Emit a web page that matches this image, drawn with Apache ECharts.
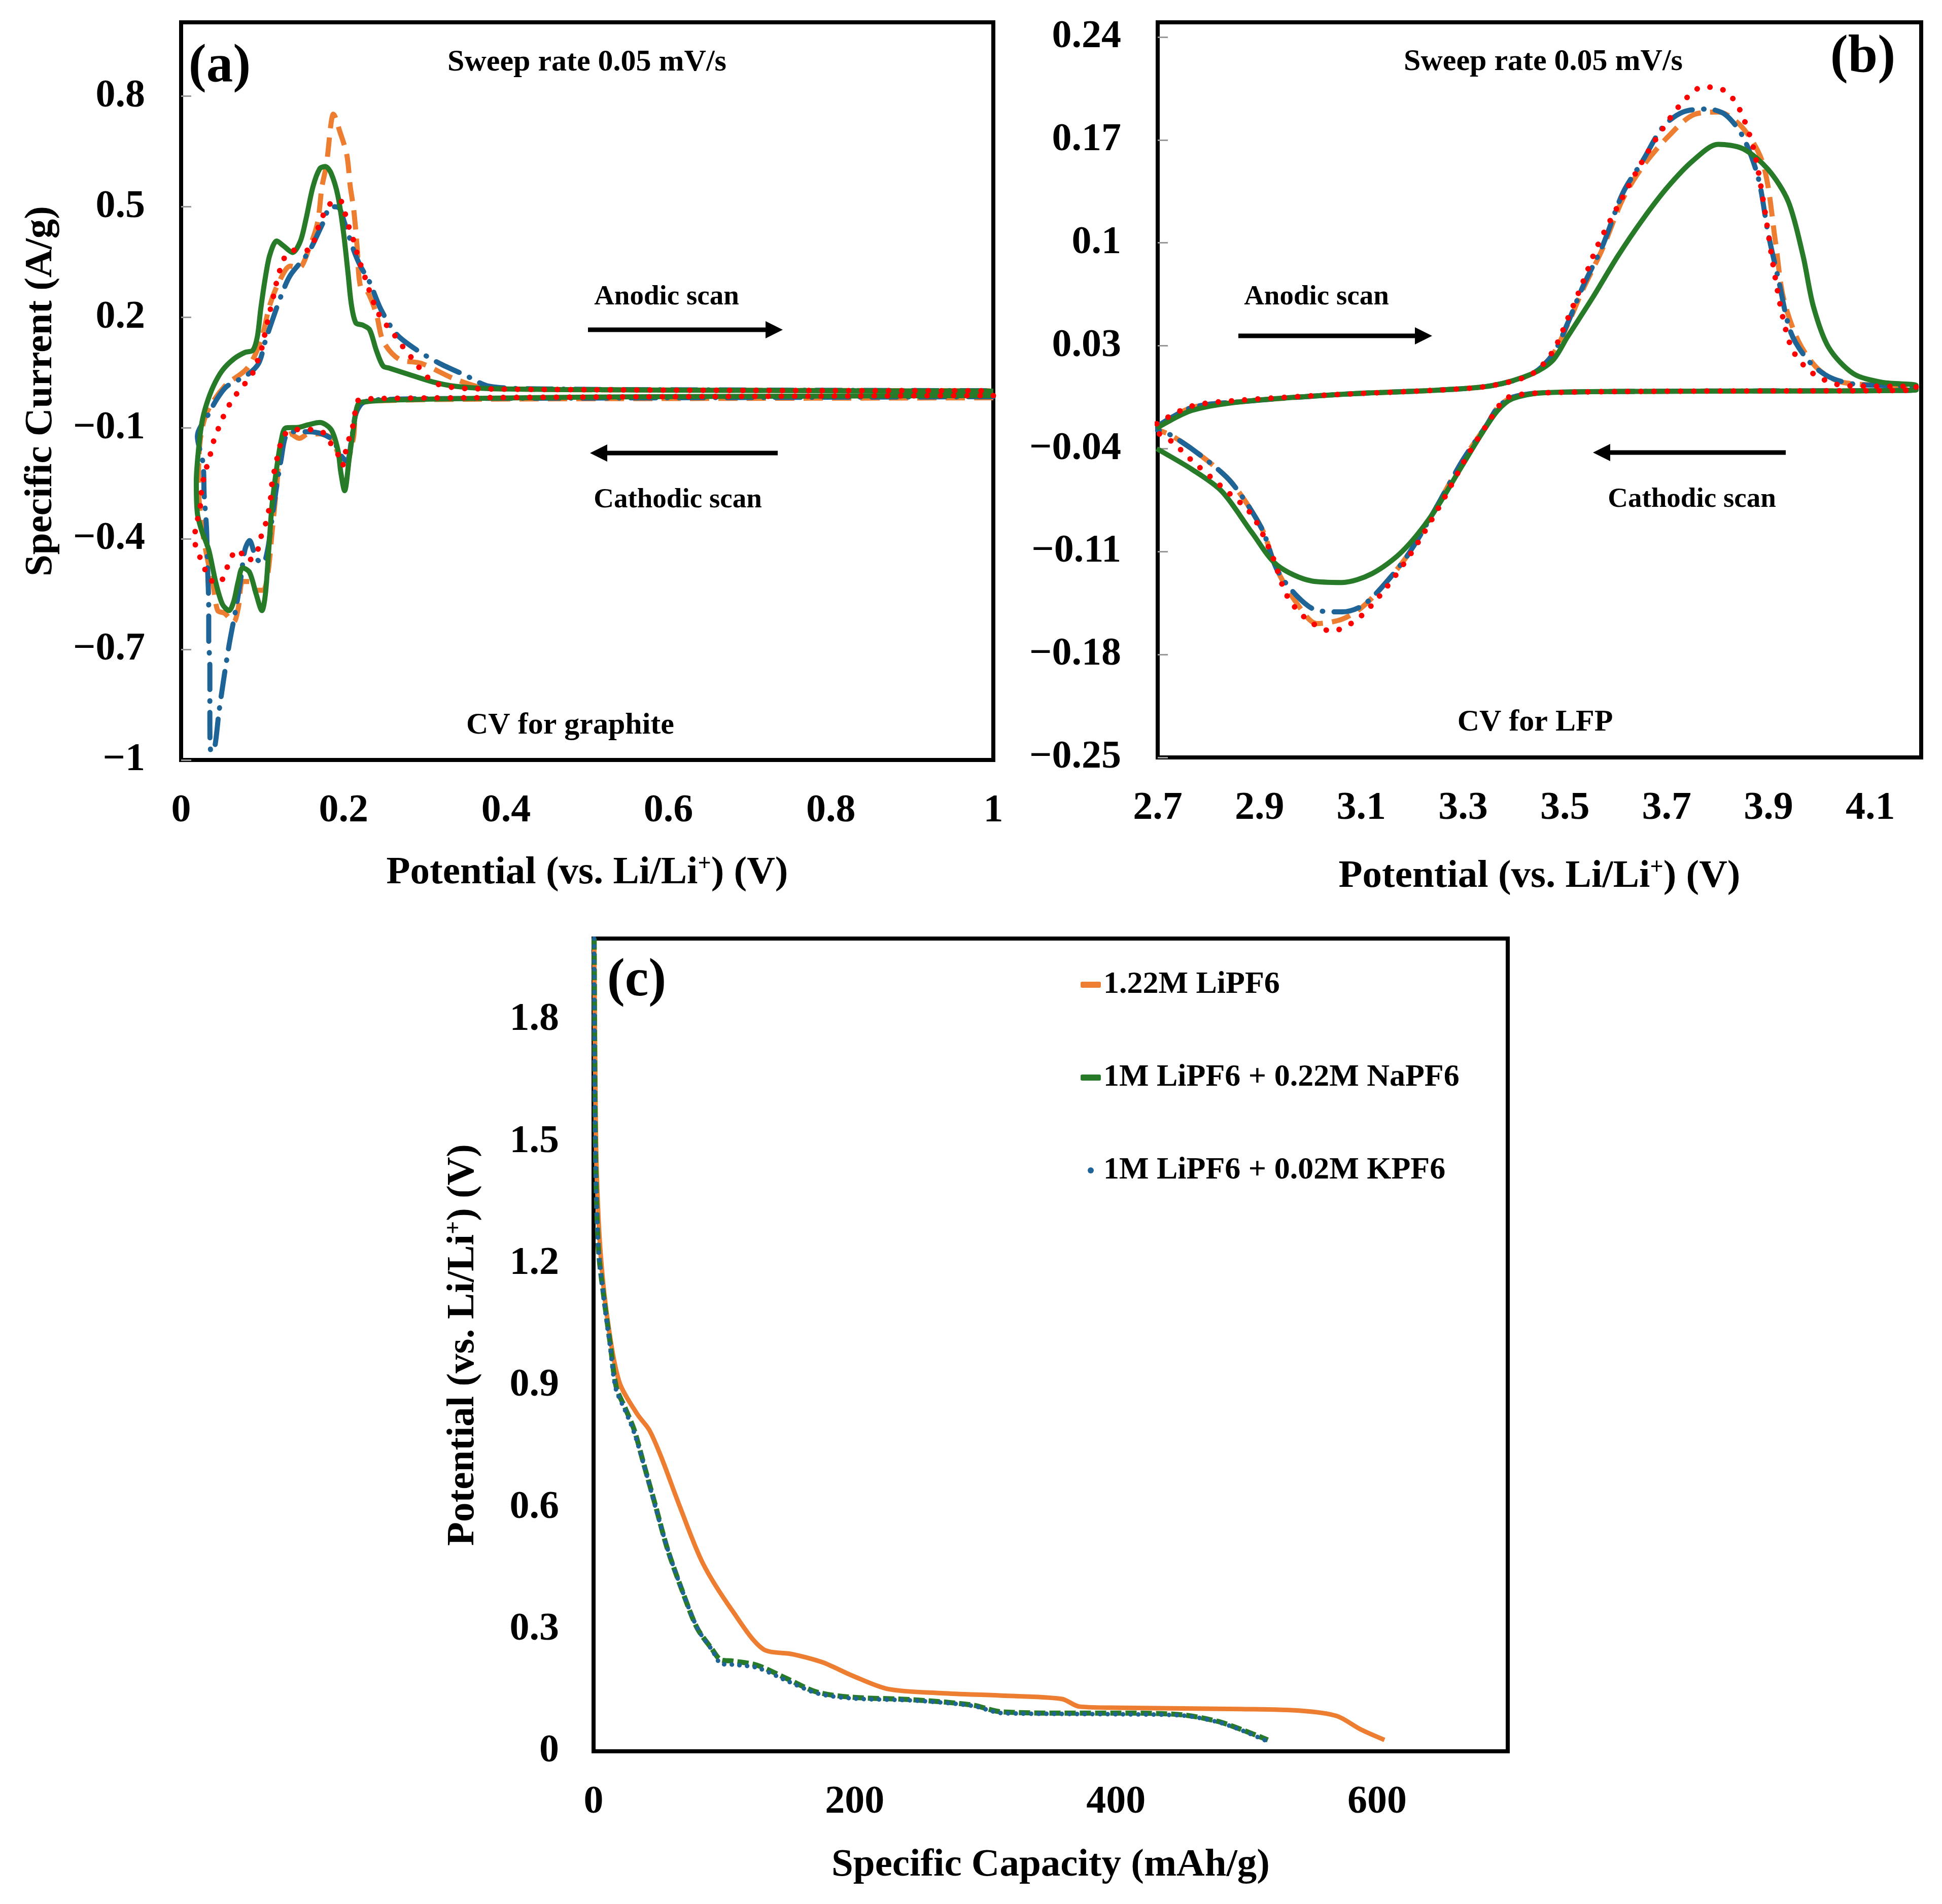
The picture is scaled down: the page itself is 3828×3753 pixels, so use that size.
<!DOCTYPE html>
<html lang="en">
<head>
    <meta charset="UTF-8">
    <title>CV and discharge curves</title>
    <script src="https://cdn.jsdelivr.net/npm/echarts@6.0.0/dist/echarts.min.js"></script>
    <style>
        html, body { margin: 0; padding: 0; background: #fff; }
    </style>
</head>
<body>
<div id="main" style="width: 3828px;height:3753px;"></div>
<script type="text/javascript">
    // ---- tick labels ----
    var graphiteXTicks = [0, 0.2, 0.4, 0.6, 0.8, 1];
    var graphiteYTicks = [-1, -0.7, -0.4, -0.1, 0.2, 0.5, 0.8];
    var lfpXTicks = [2.7, 2.9, 3.1, 3.3, 3.5, 3.7, 3.9, 4.1];
    var lfpYTicks = [-0.25, -0.18, -0.11, -0.04, 0.03, 0.1, 0.17, 0.24];
    var capXTicks = [0, 200, 400, 600];
    var capYTicks = [0, 0.3, 0.6, 0.9, 1.2, 1.5, 1.8];

    var seriesNames = ['1.22M LiPF6', '1M LiPF6 + 0.22M NaPF6', '1M LiPF6 + 0.02M KPF6'];

    // ---- (a) CV for graphite: [potential V, current A/g] ----
    var graphiteLiPF6 = [[1.0,-0.018],[0.6,-0.02],[0.35,-0.022],[0.26,-0.025],[0.225,-0.03],[0.2152,-0.06],[0.2125,-0.122],[0.2069,-0.18],[0.2041,-0.22],[0.1985,-0.2],[0.1846,-0.128],[0.1707,-0.116],[0.1567,-0.116],[0.1455,-0.128],[0.1344,-0.116],[0.1232,-0.147],[0.1177,-0.257],[0.1121,-0.38],[0.1065,-0.5],[0.1009,-0.54],[0.0926,-0.54],[0.0842,-0.516],[0.0758,-0.516],[0.0703,-0.589],[0.0647,-0.626],[0.0535,-0.602],[0.0451,-0.595],[0.0396,-0.528],[0.0312,-0.442],[0.0256,-0.368],[0.0214,-0.257],
        [0.0228,-0.147],[0.0312,-0.061],[0.0535,0.013],[0.0814,0.062],[0.0981,0.136],[0.1093,0.234],[0.1205,0.296],[0.1344,0.339],[0.1455,0.335],[0.1567,0.382],[0.1679,0.456],[0.1734,0.554],[0.179,0.615],[0.1846,0.726],[0.1874,0.751],[0.1957,0.702],[0.2041,0.64],[0.2083,0.554],[0.2125,0.493],[0.2166,0.394],[0.2208,0.284],[0.2292,0.271],[0.2403,0.21],[0.2487,0.136],[0.2682,0.087],[0.2961,0.075],[0.338,0.032],[0.38,0.007],[0.6,0.003],[1.0,0.001]];
    var graphiteKPF6 = [[1.0,-0.015],[0.6,-0.018],[0.35,-0.02],[0.26,-0.022],[0.225,-0.03],[0.2152,-0.061],[0.2097,-0.134],[0.2041,-0.19],[0.1957,-0.171],[0.1874,-0.134],[0.1734,-0.116],[0.1567,-0.11],[0.1372,-0.11],[0.1288,-0.122],[0.1232,-0.184],[0.1177,-0.257],[0.1121,-0.343],[0.1065,-0.43],[0.1009,-0.466],[0.0926,-0.454],[0.0842,-0.405],[0.0786,-0.43],[0.073,-0.516],[0.0675,-0.589],[0.0591,-0.688],[0.0521,-0.786],[0.0465,-0.872],[0.041,-0.97],[0.0368,-0.977],[0.0354,-0.897],[0.0354,-0.749],[0.034,-0.669],[0.034,-0.589],[0.0326,-0.479],[0.0312,-0.368],[0.0284,-0.282],[0.027,-0.196],[0.02,-0.122],
        [0.034,-0.061],[0.0451,-0.018],[0.0563,0.013],[0.0814,0.044],[0.0954,0.075],[0.1037,0.136],[0.1121,0.191],[0.1232,0.259],[0.1344,0.314],[0.1567,0.376],[0.1734,0.45],[0.1846,0.5],[0.193,0.499],[0.2013,0.456],[0.2125,0.382],[0.2208,0.339],[0.232,0.296],[0.2459,0.222],[0.2654,0.154],[0.2905,0.111],[0.3184,0.075],[0.3491,0.044],[0.3798,0.013],[0.45,0.006],[0.7,0.003],[1.0,0.001]];
    var graphiteNaPF6 = [[1.0,-0.012],[0.7,-0.014],[0.5,-0.016],[0.35,-0.02],[0.26,-0.024],[0.23,-0.028],[0.218,-0.035],[0.2125,-0.098],[0.2069,-0.184],[0.2013,-0.27],[0.1966,-0.22],[0.193,-0.159],[0.1846,-0.104],[0.1707,-0.085],[0.1567,-0.091],[0.1455,-0.098],[0.1288,-0.1],[0.1232,-0.134],[0.1177,-0.208],[0.112,-0.307],[0.1079,-0.43],[0.1037,-0.552],[0.0995,-0.595],[0.0926,-0.552],[0.0842,-0.491],[0.0758,-0.479],[0.0703,-0.516],[0.0647,-0.571],[0.059,-0.595],[0.0507,-0.577],[0.0424,-0.516],[0.034,-0.43],[0.0256,-0.38],[0.02,-0.331],
        [0.0187,-0.245],[0.0214,-0.159],[0.0256,-0.085],[0.0312,-0.036],[0.0396,0.013],[0.0507,0.056],[0.0647,0.087],[0.0786,0.105],[0.0884,0.111],[0.0939,0.148],[0.098,0.222],[0.1037,0.308],[0.1093,0.37],[0.1177,0.407],[0.126,0.394],[0.1372,0.376],[0.1469,0.407],[0.1539,0.468],[0.1623,0.554],[0.1707,0.603],[0.1776,0.609],[0.1846,0.591],[0.193,0.53],[0.1999,0.431],[0.2055,0.32],[0.2097,0.234],[0.2152,0.185],[0.2236,0.179],[0.232,0.167],[0.2403,0.111],[0.2487,0.068],[0.257,0.062],[0.2822,0.044],[0.31,0.025],[0.338,0.013],[0.38,0.007],[0.5,0.004],[0.7,0.002],[1.0,0.0]];
    var graphiteCurve4 = [[1.0,-0.012],[0.6,-0.015],[0.35,-0.018],[0.2208,-0.022],[0.2125,-0.085],[0.2097,-0.11],[0.2041,-0.147],[0.1985,-0.202],[0.193,-0.171],[0.1818,-0.134],[0.1734,-0.11],[0.1567,-0.104],[0.1372,-0.104],[0.126,-0.122],[0.1205,-0.159],[0.1163,-0.202],[0.1121,-0.245],[0.1093,-0.307],[0.1037,-0.362],[0.0968,-0.405],[0.0926,-0.442],[0.0814,-0.46],[0.0703,-0.43],[0.0591,-0.46],[0.0535,-0.503],[0.0424,-0.522],[0.0312,-0.491],[0.0228,-0.448],[0.0173,-0.411],[0.0173,-0.368],
        [0.0228,-0.331],[0.0242,-0.288],[0.027,-0.245],[0.0312,-0.208],[0.0368,-0.165],[0.041,-0.128],[0.0479,-0.091],[0.0549,-0.055],[0.0647,-0.018],[0.0758,0.013],[0.087,0.044],[0.094,0.081],[0.0995,0.118],[0.1037,0.161],[0.1079,0.204],[0.1121,0.241],[0.1163,0.284],[0.1205,0.32],[0.126,0.357],[0.1372,0.382],[0.1455,0.382],[0.1567,0.382],[0.1637,0.407],[0.1707,0.456],[0.179,0.493],[0.1888,0.517],[0.1957,0.517],[0.2013,0.486],[0.2069,0.443],[0.2125,0.407],[0.218,0.363],[0.2236,0.327],[0.2292,0.29],[0.2348,0.253],[0.2431,0.21],[0.2529,0.179],[0.264,0.148],[0.2738,0.118],[0.285,0.087],[0.2961,0.056],[0.3101,0.025],[0.3268,0.013],[0.3519,0.007],[0.5,0.004],[0.7,0.002],[1.0,0.001]];

    // ---- (b) CV for LFP: [potential V, current A/g] ----
    var lfpLiPF6 = [[2.698,-0.025],[2.767,-0.012],[2.865,-0.008],[3.062,-0.003],[3.259,0.0],[3.358,0.003],[3.436,0.011],[3.476,0.024],[3.505,0.044],[3.535,0.068],[3.574,0.096],[3.614,0.13],[3.653,0.152],[3.702,0.172],[3.752,0.187],[3.801,0.189],[3.85,0.178],[3.89,0.153],[3.914,0.1],[3.929,0.063],[3.959,0.033],[3.998,0.014],[4.047,0.005],[4.19,0.002],
        [4.19,0.0],[3.653,-0.001],[3.456,-0.002],[3.397,-0.005],[3.368,-0.012],[3.348,-0.023],[3.299,-0.048],[3.239,-0.085],[3.19,-0.113],[3.141,-0.134],[3.101,-0.148],[3.062,-0.156],[3.013,-0.159],[2.973,-0.145],[2.934,-0.122],[2.904,-0.094],[2.845,-0.063],[2.786,-0.045],[2.727,-0.031],[2.698,-0.027]];
    var lfpKPF6 = [[2.698,-0.025],[2.767,-0.012],[2.865,-0.008],[3.062,-0.003],[3.259,0.0],[3.358,0.003],[3.436,0.011],[3.476,0.024],[3.505,0.045],[3.535,0.07],[3.574,0.098],[3.614,0.134],[3.653,0.156],[3.693,0.179],[3.732,0.189],[3.781,0.191],[3.816,0.187],[3.85,0.172],[3.88,0.144],[3.899,0.107],[3.919,0.076],[3.944,0.039],[3.978,0.02],[4.018,0.009],[4.067,0.004],[4.19,0.002],
        [4.19,0.0],[3.653,-0.001],[3.456,-0.002],[3.397,-0.005],[3.368,-0.012],[3.348,-0.023],[3.299,-0.048],[3.239,-0.085],[3.19,-0.113],[3.141,-0.134],[3.101,-0.147],[3.062,-0.151],[3.013,-0.15],[2.973,-0.14],[2.934,-0.122],[2.904,-0.094],[2.845,-0.063],[2.786,-0.045],[2.727,-0.031],[2.698,-0.027]];
    var lfpNaPF6 = [[2.698,-0.026],[2.767,-0.014],[2.865,-0.008],[3.062,-0.003],[3.259,0.0],[3.358,0.003],[3.436,0.011],[3.476,0.02],[3.505,0.036],[3.555,0.063],[3.604,0.091],[3.653,0.116],[3.702,0.138],[3.752,0.156],[3.801,0.167],[3.85,0.164],[3.899,0.15],[3.939,0.128],[3.968,0.091],[3.988,0.057],[4.018,0.029],[4.067,0.011],[4.126,0.005],[4.19,0.003],
        [4.19,0.0],[3.653,-0.001],[3.456,-0.002],[3.397,-0.006],[3.368,-0.014],[3.338,-0.029],[3.299,-0.051],[3.239,-0.085],[3.18,-0.11],[3.121,-0.125],[3.062,-0.131],[3.003,-0.13],[2.934,-0.119],[2.885,-0.097],[2.826,-0.069],[2.767,-0.054],[2.698,-0.04]];
    var lfpCurve4 = [[2.698,-0.023],[2.767,-0.011],[2.865,-0.007],[3.062,-0.003],[3.259,0.0],[3.358,0.003],[3.436,0.011],[3.476,0.026],[3.505,0.048],[3.535,0.073],[3.564,0.098],[3.604,0.125],[3.653,0.156],[3.693,0.178],[3.732,0.196],[3.771,0.206],[3.811,0.204],[3.84,0.193],[3.87,0.165],[3.89,0.128],[3.909,0.085],[3.929,0.048],[3.949,0.026],[3.988,0.011],[4.047,0.003],[4.19,0.002],
        [4.19,0.0],[3.653,-0.001],[3.456,-0.002],[3.397,-0.004],[3.377,-0.008],[3.348,-0.023],[3.308,-0.045],[3.259,-0.076],[3.2,-0.11],[3.141,-0.138],[3.092,-0.156],[3.042,-0.164],[2.993,-0.156],[2.954,-0.14],[2.924,-0.112],[2.885,-0.085],[2.826,-0.066],[2.767,-0.048],[2.727,-0.035],[2.698,-0.029]];

    // ---- (c) discharge: [capacity mAh/g, potential V] ----
    var capLiPF6 = [[0.5,2.0],[1.4,1.633],[2.3,1.436],[5.1,1.238],[10.5,1.067],[19.7,0.909],[33.4,0.83],[42.6,0.791],[51.7,0.725],[65.5,0.607],[83.8,0.462],[106.7,0.344],[129.6,0.252],[152.4,0.239],[175.3,0.219],[198.2,0.186],[225.7,0.153],[266.9,0.143],[312.6,0.137],[358.4,0.129],[372.1,0.11],[404.2,0.107],[495.7,0.104],[541.5,0.1],[568.9,0.087],[587.3,0.054],[605.6,0.028]];
    var capNaPF6 = [[0.5,2.0],[1.4,1.5],[3.7,1.238],[8.3,1.107],[12.8,1.002],[17.4,0.896],[24.3,0.844],[31.1,0.791],[38.0,0.712],[47.2,0.607],[56.3,0.501],[67.8,0.396],[79.2,0.304],[90.6,0.252],[97.5,0.225],[106.7,0.222],[125.0,0.212],[147.9,0.179],[170.7,0.146],[198.2,0.133],[244.0,0.127],[289.7,0.114],[312.6,0.097],[358.4,0.094],[404.2,0.094],[450.0,0.09],[477.4,0.074],[495.7,0.054],[516.3,0.028]];
    var capKPF6 = [[0.4,2.0],[1.2,1.52],[3.5,1.25],[8.0,1.11],[12.5,1.0],[17.0,0.893],[24.0,0.84],[31.0,0.785],[38.5,0.705],[47.5,0.6],[57.0,0.495],[68.5,0.39],[80.0,0.3],[91.0,0.248],[98.0,0.215],[108.0,0.213],[126.0,0.205],[149.0,0.172],[172.0,0.142],[199.0,0.13],[245.0,0.125],[290.0,0.112],[313.0,0.094],[359.0,0.092],[405.0,0.091],[451.0,0.088],[478.0,0.072],[496.0,0.052],[515.0,0.026]];

    var FONT = 'Liberation Serif';
    var ORANGE = '#ED7D31', GREEN = '#267A28', BLUE = '#1F6496', RED = '#FF0000';

    function fmt(v) {
        return v < 0 ? '\u2212' + String(-v) : String(v);
    }

    function axis(gridIndex, min, max, ticks, name, nameGap, showTick, margin) {
        return {
            type: 'value',
            gridIndex: gridIndex,
            min: min,
            max: max,
            name: name,
            nameLocation: 'middle',
            nameGap: nameGap,
            nameTextStyle: {
                fontFamily: FONT, fontWeight: 'bold', fontSize: 77, color: '#000', lineHeight: 80,
                rich: {
                    sup: { fontFamily: FONT, fontWeight: 'bold', fontSize: 46, color: '#000', verticalAlign: 'top', lineHeight: 46 }
                }
            },
            axisLine: { show: false },
            splitLine: { show: false },
            axisTick: {
                show: !!showTick, inside: true, length: 20,
                customValues: ticks,
                lineStyle: { color: '#999', width: 3 }
            },
            axisLabel: {
                customValues: ticks,
                margin: margin,
                formatter: fmt,
                fontFamily: FONT, fontWeight: 'bold', fontSize: 78, color: '#000'
            }
        };
    }

    function lineSeries(name, data, idx, color, style) {
        return {
            name: name,
            type: 'line',
            xAxisIndex: idx,
            yAxisIndex: idx,
            data: data,
            showSymbol: false,
            smooth: 0.3,
            clip: true,
            z: style.z || 2,
            lineStyle: { color: color, width: style.width, type: style.type || 'solid', cap: style.cap || 'butt', join: 'round' },
            itemStyle: { color: color }
        };
    }

    var dashed = { width: 10, type: [38, 18], z: 2 };
    var dashDot = { width: 10, type: [50, 22, 1, 22], cap: 'round', z: 3 };
    var solid = { width: 10, z: 4 };
    var dotted = { width: 11, type: [0.1, 26], cap: 'round', z: 5 };

    function txt(x, y, s, size) {
        return {
            type: 'text', x: x, y: y, z: 100,
            style: { text: s, fontFamily: FONT, fontWeight: 'bold', fontSize: size, fill: '#000', align: 'center', verticalAlign: 'middle' }
        };
    }
    function arrow(x1, x2, y) {
        var dir = x2 > x1 ? 1 : -1;
        var base = x2 - dir * 34;
        return {
            type: 'group', z: 100,
            children: [
                { type: 'line', shape: { x1: x1, y1: y, x2: base, y2: y }, style: { stroke: '#000', lineWidth: 9 } },
                { type: 'polygon', shape: { points: [[x2, y], [base, y - 17], [base, y + 17]] }, style: { fill: '#000' } }
            ]
        };
    }

    var chartDom = document.getElementById('main');
    var myChart = echarts.init(chartDom);
    var option;

    option = {
        backgroundColor: '#fff',
        animation: false,
        grid: [
            { left: 357, top: 44, width: 1601, height: 1454, show: true, borderColor: '#000', borderWidth: 8, backgroundColor: 'transparent' },
            { left: 2282, top: 44, width: 1505, height: 1449, show: true, borderColor: '#000', borderWidth: 8, backgroundColor: 'transparent' },
            { left: 1170, top: 1850, width: 1802, height: 1602, show: true, borderColor: '#000', borderWidth: 8, backgroundColor: 'transparent' }
        ],
        xAxis: [
            axis(0, 0, 1, graphiteXTicks, 'Potential (vs. Li/Li{sup|+}) (V)', 183, false, 62),
            axis(1, 2.7, 4.2, lfpXTicks, 'Potential (vs. Li/Li{sup|+}) (V)', 195, false, 62),
            axis(2, 0, 700, capXTicks, 'Specific Capacity (mAh/g)', 185, false, 62)
        ],
        yAxis: [
            axis(0, -1, 1, graphiteYTicks, 'Specific Current (A/g)', 236, true, 71),
            axis(1, -0.25, 0.25, lfpYTicks, '', 0, true, 72),
            axis(2, 0, 2, capYTicks, 'Potential (vs. Li/Li{sup|+}) (V)', 217, false, 68)
        ],
        legend: {
            orient: 'vertical',
            left: 2130,
            top: 1906,
            itemGap: 113,
            itemWidth: 40,
            itemHeight: 12,
            padding: 0,
            textStyle: { fontFamily: FONT, fontWeight: 'bold', fontSize: 62, color: '#000', lineHeight: 70 },
            data: [
                { name: seriesNames[0], icon: 'roundRect' },
                { name: seriesNames[1], icon: 'roundRect' },
                { name: seriesNames[2], icon: 'circle' }
            ]
        },
        series: [
            lineSeries('graphite ' + seriesNames[0], graphiteLiPF6, 0, ORANGE, dashed),
            lineSeries('graphite ' + seriesNames[2], graphiteKPF6, 0, BLUE, dashDot),
            lineSeries('graphite ' + seriesNames[1], graphiteNaPF6, 0, GREEN, solid),
            lineSeries('graphite curve 4', graphiteCurve4, 0, RED, dotted),
            lineSeries('LFP ' + seriesNames[0], lfpLiPF6, 1, ORANGE, dashed),
            lineSeries('LFP ' + seriesNames[2], lfpKPF6, 1, BLUE, dashDot),
            lineSeries('LFP ' + seriesNames[1], lfpNaPF6, 1, GREEN, solid),
            lineSeries('LFP curve 4', lfpCurve4, 1, RED, dotted),
            lineSeries(seriesNames[0], capLiPF6, 2, ORANGE, { width: 9, z: 2 }),
            lineSeries(seriesNames[1], capNaPF6, 2, GREEN, { width: 10, type: [22, 8], z: 3 }),
            lineSeries(seriesNames[2], capKPF6, 2, BLUE, { width: 9, type: [0.1, 15], cap: 'round', z: 4 })
        ],
        graphic: [
            txt(433, 133, '(a)', 105),
            txt(1157, 123, 'Sweep rate 0.05 mV/s', 60),
            txt(1314, 586, 'Anodic scan', 55),
            arrow(1159, 1543, 650),
            arrow(1533, 1163, 893),
            txt(1336, 986, 'Cathodic scan', 55),
            txt(1124, 1430, 'CV for graphite', 60),
            txt(3672, 115, '(b)', 105),
            txt(3042, 122, 'Sweep rate 0.05 mV/s', 60),
            txt(2595, 586, 'Anodic scan', 55),
            arrow(2441, 2823, 662),
            arrow(3520, 3140, 892),
            txt(3335, 985, 'Cathodic scan', 55),
            txt(3026, 1424, 'CV for LFP', 60),
            txt(1255, 1935, '(c)', 105)
        ]
    };

    option && myChart.setOption(option);
    window.addEventListener("resize",function (){
        myChart.resize();
    })
</script>
</body>
</html>
